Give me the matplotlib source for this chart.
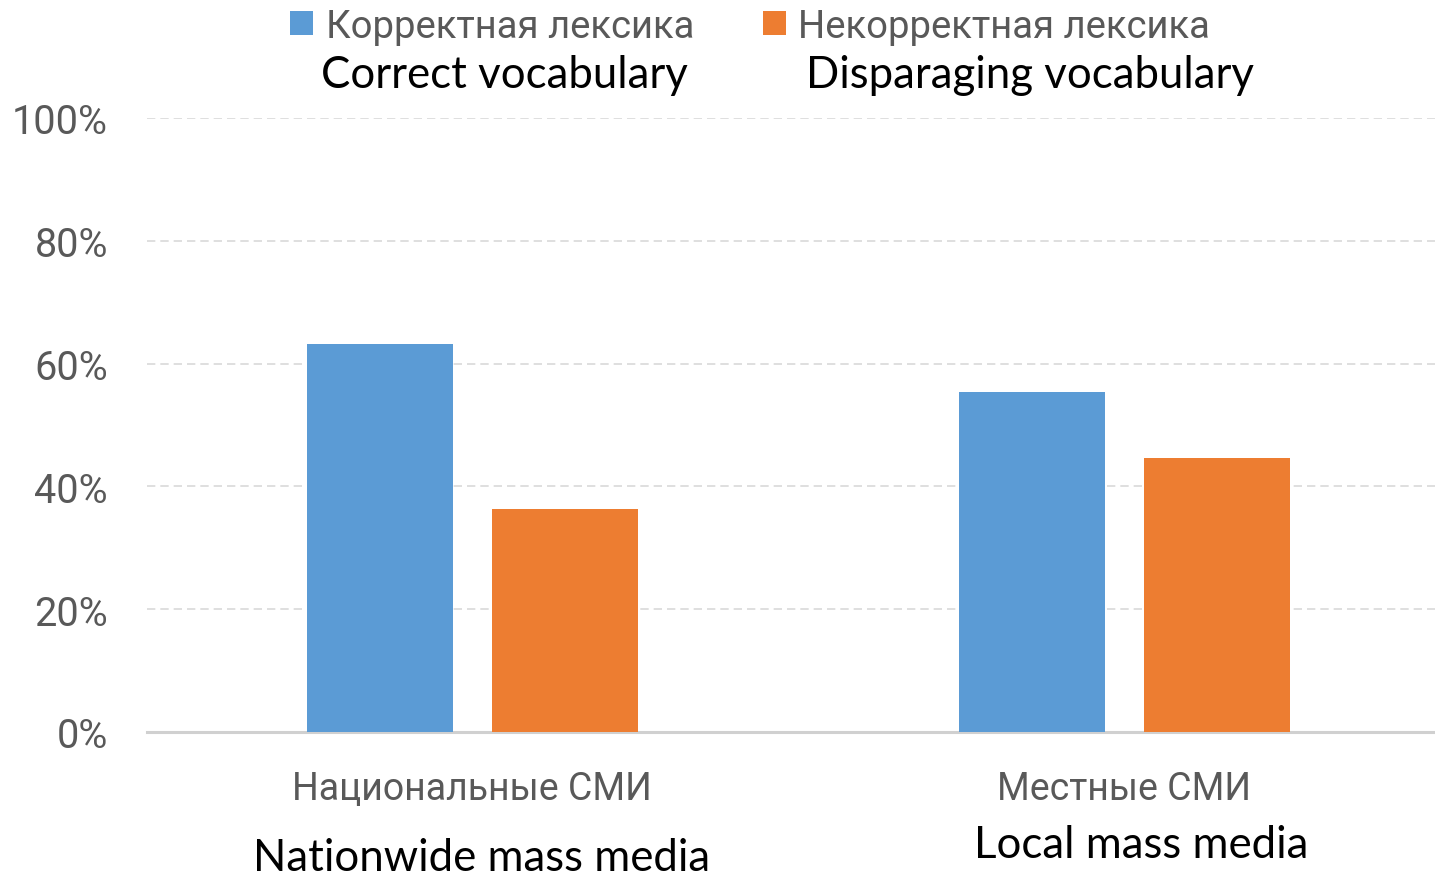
import matplotlib
matplotlib.use("Agg")
import matplotlib.pyplot as plt
import numpy as np

categories_ru = ["Национальные СМИ", "Местные СМИ"]
categories_en = ["Nationwide mass media", "Local mass media"]
series_ru = ["Корректная лексика", "Некорректная лексика"]
series_en = ["Correct vocabulary", "Disparaging vocabulary"]
correct = [0.632, 0.554]
incorrect = [0.363, 0.446]
yticks = [0, 0.2, 0.4, 0.6, 0.8, 1.0]
ytick_labels = ["0%", "20%", "40%", "60%", "80%", "100%"]

BLUE = "#5B9BD5"
ORANGE = "#ED7D31"
GRAY_TXT = "#595959"
RU_FONT = ["Roboto", "DejaVu Sans"]
EN_FONT = ["Lato", "Open Sans", "DejaVu Sans"]

W, H = 1435, 878
fig = plt.figure(figsize=(W / 100, H / 100), dpi=100)
ax = fig.add_axes([147 / W, 1 - 733 / H, (1450 - 147) / W, (733 - 119) / H])

x = np.arange(len(categories_ru))
bw = 0.224
off = 0.142
ax.bar(x - off, correct, bw, color=BLUE, zorder=3, label=series_ru[0])
ax.bar(x + off, incorrect, bw, color=ORANGE, zorder=3, label=series_ru[1])

ax.set_xlim(-0.5, 1.5)
ax.set_ylim(0, 1.0)
ax.set_yticks(yticks)
ax.set_yticklabels(ytick_labels, fontfamily=RU_FONT, fontsize=28.5, color=GRAY_TXT)
ax.tick_params(axis="y", length=0, pad=28)
ax.set_xticks([])
for s in ["top", "right", "left"]:
    ax.spines[s].set_visible(False)
ax.spines["bottom"].set_color("#d0d0d0")
ax.spines["bottom"].set_linewidth(2.2)
ax.yaxis.grid(True, linestyle=(0, (5, 3)), color="#d9d9d9", linewidth=1.2, zorder=0)
ax.set_axisbelow(True)

ru_x = [472, 1124]
en_x = [482, 1141]
en_base = [871, 858]
for i in range(len(categories_ru)):
    fig.text(ru_x[i] / W, 1 - 800 / H, categories_ru[i], ha="center", va="baseline",
             fontsize=27, color=GRAY_TXT, fontfamily=RU_FONT)
    fig.text(en_x[i] / W, 1 - en_base[i] / H, categories_en[i], ha="center", va="baseline",
             fontsize=31.5, color="black", fontfamily=EN_FONT)

leg = fig.legend(loc="center left", bbox_to_anchor=(290 / W, 1 - 27 / H), ncol=2,
                 frameon=False, handlelength=0.6, handleheight=0.6, handletextpad=0.33,
                 columnspacing=1.8, borderpad=0, borderaxespad=0,
                 prop={"family": RU_FONT, "size": 27.5})
for t in leg.get_texts():
    t.set_color(GRAY_TXT)

fig.text(504 / W, 1 - 88 / H, series_en[0], ha="center", va="baseline", fontsize=31.5,
         color="black", fontfamily=EN_FONT)
fig.text(1030 / W, 1 - 88 / H, series_en[1], ha="center", va="baseline", fontsize=31.5,
         color="black", fontfamily=EN_FONT)

fig.savefig("out.png", dpi=100)
